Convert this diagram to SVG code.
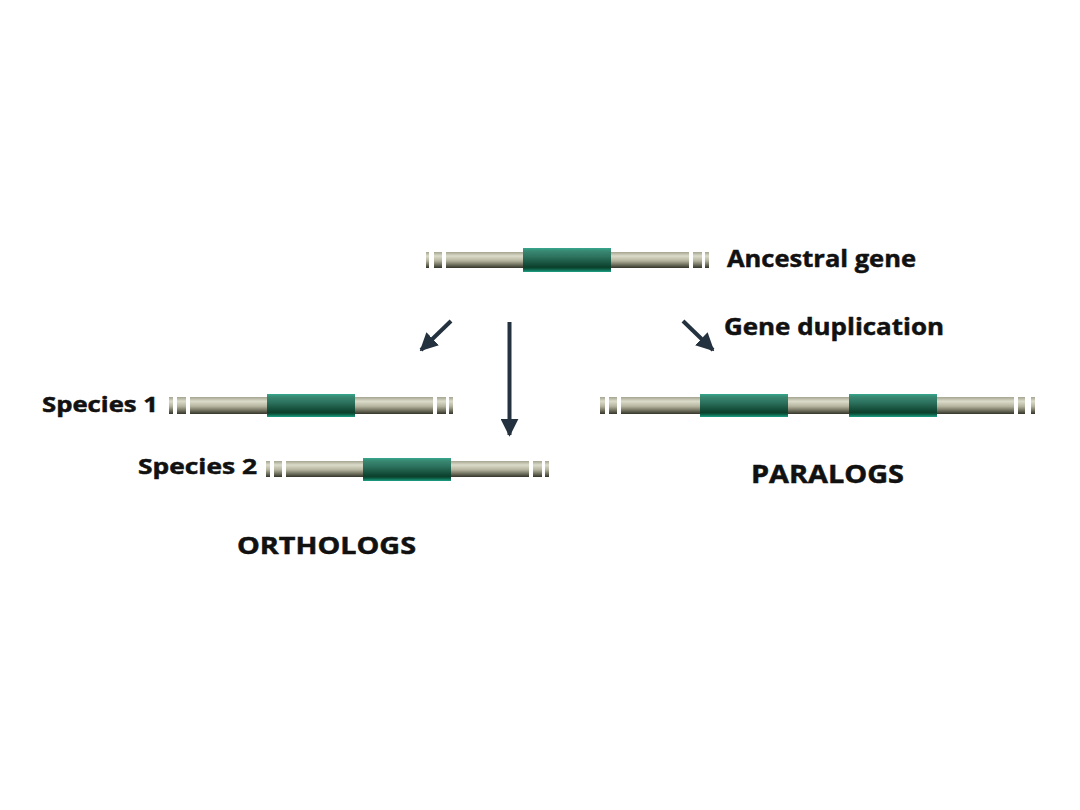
<svg xmlns="http://www.w3.org/2000/svg" width="1080" height="810" viewBox="0 0 1080 810">
<style>
.lbl{font-family:"Open Sans","Noto Sans","Liberation Sans",sans-serif;font-weight:bold;fill:#111;stroke:#111;stroke-width:0.5}
.bar{fill:url(#gBar)}
.gene{fill:url(#gGene)}
.arr{stroke:#24313f;stroke-width:4;fill:none}
</style>
<defs>
<linearGradient id="gBar" x1="0" y1="0" x2="0" y2="1">
<stop offset="0" stop-color="#a4a490"/>
<stop offset="0.25" stop-color="#dcdccb"/>
<stop offset="0.55" stop-color="#b4b49e"/>
<stop offset="0.8" stop-color="#6e6e5c"/>
<stop offset="1" stop-color="#34342a"/>
</linearGradient>
<linearGradient id="gGene" x1="0" y1="0" x2="0" y2="1">
<stop offset="0" stop-color="#35a88e"/>
<stop offset="0.12" stop-color="#3a8872"/>
<stop offset="0.35" stop-color="#2e7460"/>
<stop offset="0.8" stop-color="#0b3f2b"/>
<stop offset="0.88" stop-color="#0d5a42"/>
<stop offset="1" stop-color="#1fa386"/>
</linearGradient>
<marker id="ah" viewBox="0 0 10 10" refX="9" refY="5" markerWidth="4.5" markerHeight="4.5" orient="auto" markerUnits="strokeWidth">
<path d="M0,0 L10,5 L0,10 Z" fill="#24313f"/>
</marker>
</defs>

<g id="connectors">
<path class="arr" d="M451,321 L421,350" marker-end="url(#ah)"/>
<path class="arr" d="M509.5,322 L509.5,435" marker-end="url(#ah)"/>
<path class="arr" d="M683,321 L713,350" marker-end="url(#ah)"/>
</g>

<g id="ancestral">
<rect class="bar" x="426" y="252" width="3" height="16"/>
<rect class="bar" x="434" y="252" width="8" height="16"/>
<rect class="bar" x="446" y="252" width="243" height="16"/>
<rect class="bar" x="693" y="252" width="9" height="16"/>
<rect class="bar" x="705" y="252" width="4" height="16"/>
<rect class="gene" x="523" y="248" width="88" height="24"/>
<text class="lbl" x="727" y="267" font-size="24" textLength="189" lengthAdjust="spacingAndGlyphs">Ancestral gene</text>
</g>

<g id="dup-label">
<text class="lbl" x="724" y="335" font-size="24" textLength="220" lengthAdjust="spacingAndGlyphs">Gene duplication</text>
</g>

<g id="species1">
<text class="lbl" x="42" y="412" font-size="22" textLength="116" lengthAdjust="spacingAndGlyphs">Species 1</text>
<rect class="bar" x="169" y="397" width="4" height="17"/>
<rect class="bar" x="177" y="397" width="9" height="17"/>
<rect class="bar" x="190" y="397" width="243" height="17"/>
<rect class="bar" x="437" y="397" width="9" height="17"/>
<rect class="bar" x="449" y="397" width="4" height="17"/>
<rect class="gene" x="267" y="394" width="88" height="23"/>
</g>

<g id="species2">
<text class="lbl" x="138" y="474" font-size="22" textLength="119" lengthAdjust="spacingAndGlyphs">Species 2</text>
<rect class="bar" x="266" y="461" width="4" height="16"/>
<rect class="bar" x="274" y="461" width="8" height="16"/>
<rect class="bar" x="286" y="461" width="243" height="16"/>
<rect class="bar" x="533" y="461" width="9" height="16"/>
<rect class="bar" x="545" y="461" width="4" height="16"/>
<rect class="gene" x="363" y="458" width="88" height="23"/>
</g>

<g id="paralogs">
<rect class="bar" x="600" y="397" width="5" height="17"/>
<rect class="bar" x="609" y="397" width="8" height="17"/>
<rect class="bar" x="621" y="397" width="393" height="17"/>
<rect class="bar" x="1018" y="397" width="7" height="17"/>
<rect class="bar" x="1031" y="397" width="4" height="17"/>
<rect class="gene" x="700" y="394" width="88" height="23"/>
<rect class="gene" x="849" y="394" width="88" height="23"/>
</g>

<g id="orthologs-label">
<text class="lbl" x="237" y="554" font-size="24" textLength="179" lengthAdjust="spacingAndGlyphs">ORTHOLOGS</text>
</g>
<g id="paralogs-label">
<text class="lbl" x="751" y="483" font-size="25" textLength="153" lengthAdjust="spacingAndGlyphs">PARALOGS</text>
</g>
</svg>
